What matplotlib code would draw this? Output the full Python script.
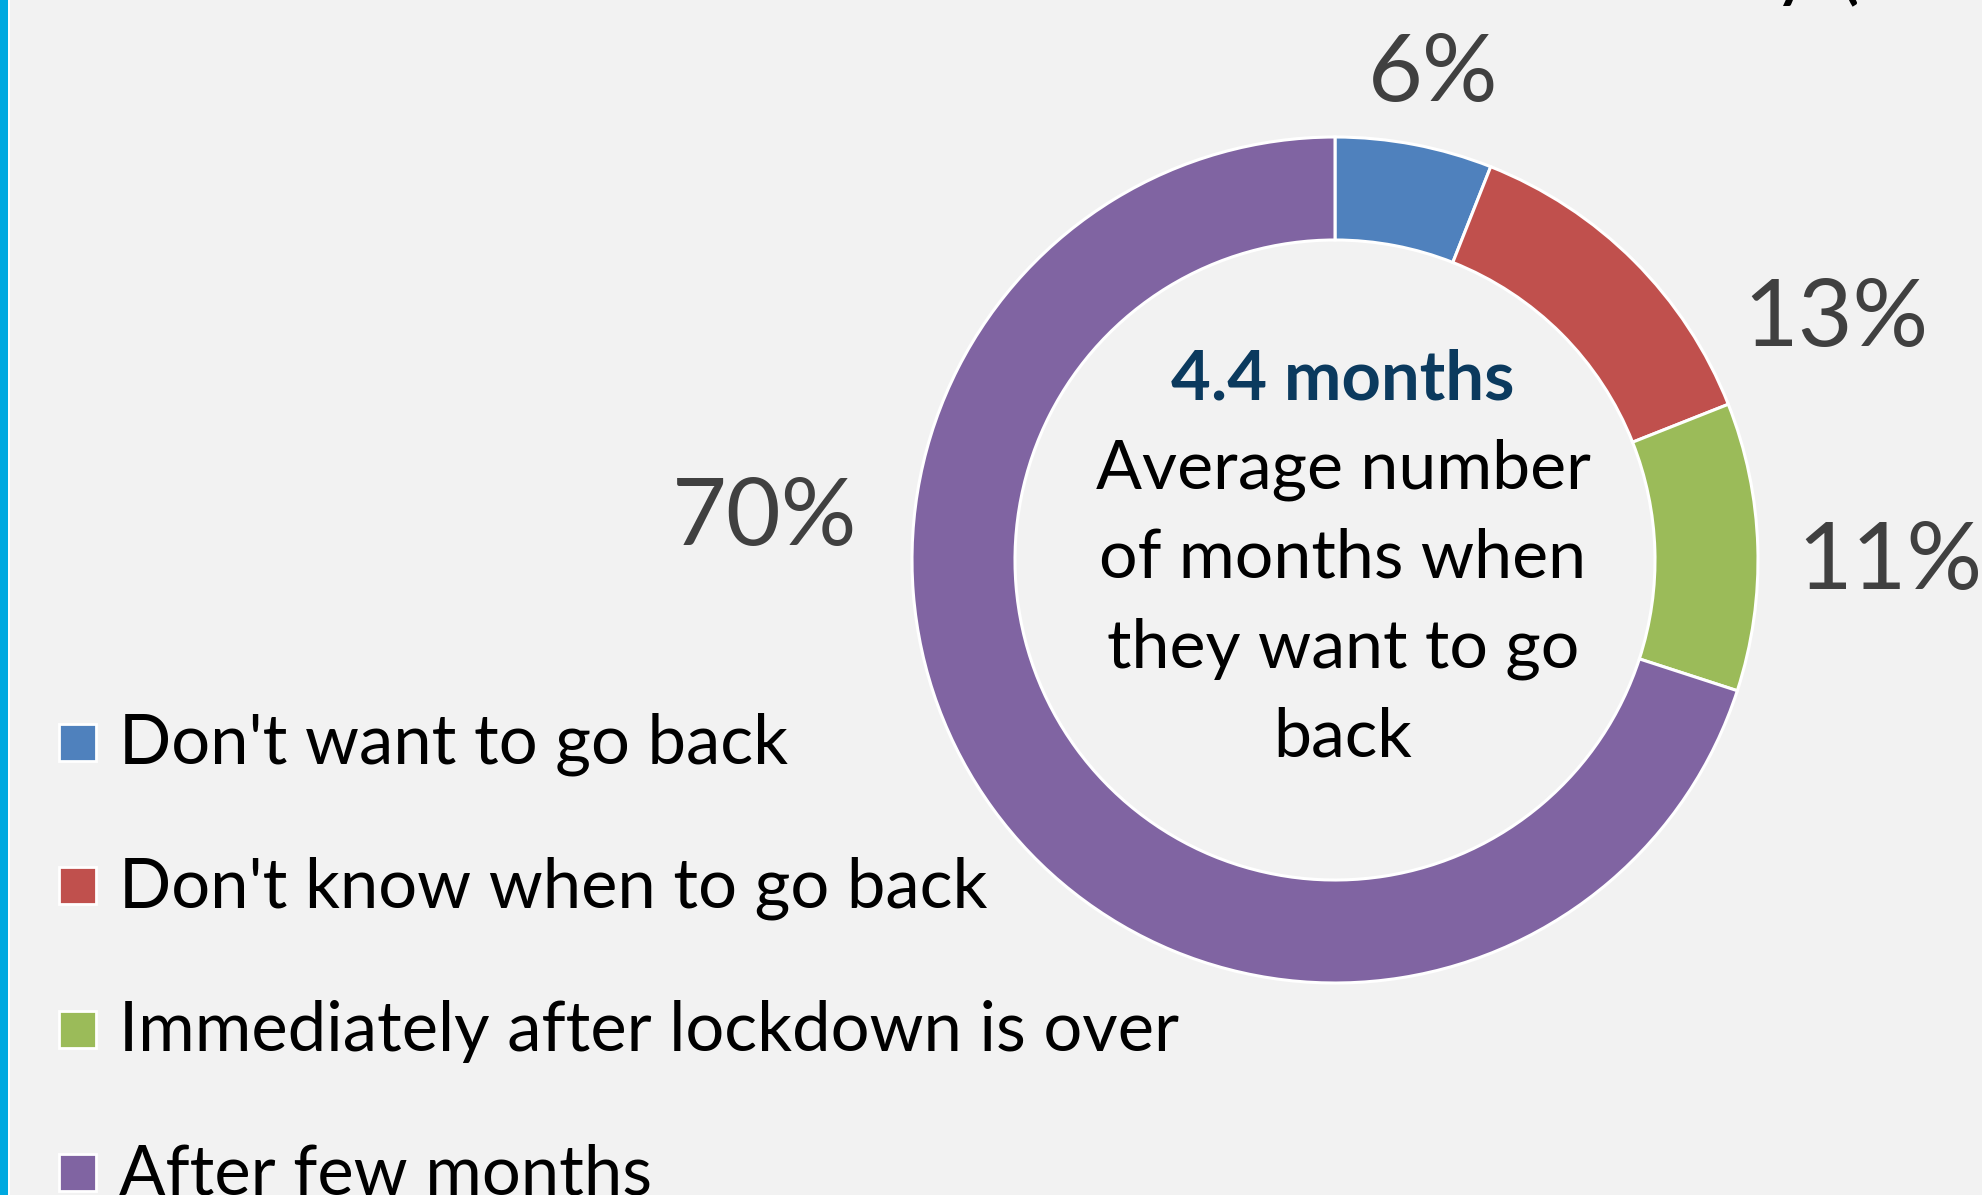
import matplotlib.pyplot as plt
from matplotlib.patches import Rectangle

# donnees
categories = ["Don't want to go back", "Don't know when to go back",
              "Immediately after lockdown is over", "After few months"]
values = [6, 13, 11, 70]
colors = ["#4F81BD", "#C0504D", "#9BBB59", "#8064A2"]
center_value = "4.4 months"
center_caption = "Average number\nof months when\nthey want to go\nback"

W, H = 1983, 1195
FONT = "Lato"

def Y(y):
    # coordonnees image (haut = 0) -> axes
    return H - y

fig = plt.figure(figsize=(W / 100, H / 100), dpi=100)
fig.patch.set_facecolor("#F2F2F2")
ax = fig.add_axes([0, 0, 1, 1])
ax.set_facecolor("#F2F2F2")

# anneau
cx, cy, r_out, r_in = 1335, 560, 423, 320
ax.pie(values, colors=colors, startangle=90, counterclock=False,
       radius=r_out, center=(cx, Y(cy)),
       wedgeprops=dict(width=r_out - r_in, edgecolor="white", linewidth=2.2))
ax.set_xlim(0, W)
ax.set_ylim(0, H)
ax.set_aspect("equal")
ax.axis("off")

# etiquettes de pourcentage (centre x, ligne de base)
label_pos = [(1433, 101), (1836, 346), (1890, 589), (765, 545)]
for v, (lx, ly) in zip(values, label_pos):
    ax.text(lx, Y(ly), f"{v}%", ha="center", va="baseline",
            fontsize=68, color="#404040", family=FONT)

# texte central
ax.text(1343, Y(399), center_value, ha="center", va="baseline",
        fontsize=49.5, fontweight="bold", color="#0B3A5E", family=FONT)
for i, line in enumerate(center_caption.split("\n")):
    ax.text(1343, Y(488 + i * 89.5), line, ha="center", va="baseline",
            fontsize=49, color="black", family=FONT)

# legende
for i, (cat, col) in enumerate(zip(categories, colors)):
    base = 764 + i * 143.5
    ax.add_patch(Rectangle((59, Y(base - 22) - 18.5), 37, 37, facecolor=col,
                           edgecolor="white", linewidth=2))
    ax.text(119, Y(base), cat, ha="left", va="baseline",
            fontsize=49.5, color="black", family=FONT)

# barre bleue a gauche
ax.add_patch(Rectangle((0, 0), 8, H, facecolor="#00A9E0", edgecolor="none"))
ax.add_patch(Rectangle((8, 0), 1.5, H, facecolor="white", edgecolor="none"))

# fragment du titre coupe en haut
ax.text(1776, Y(-4), "y", ha="left", va="baseline",
        fontsize=44, fontweight="bold", color="black", family=FONT)
ax.text(1842, Y(-4), "(", ha="left", va="baseline",
        fontsize=44, fontweight="bold", color="black", family=FONT)

fig.savefig("out.png", dpi=100, facecolor=fig.get_facecolor())
